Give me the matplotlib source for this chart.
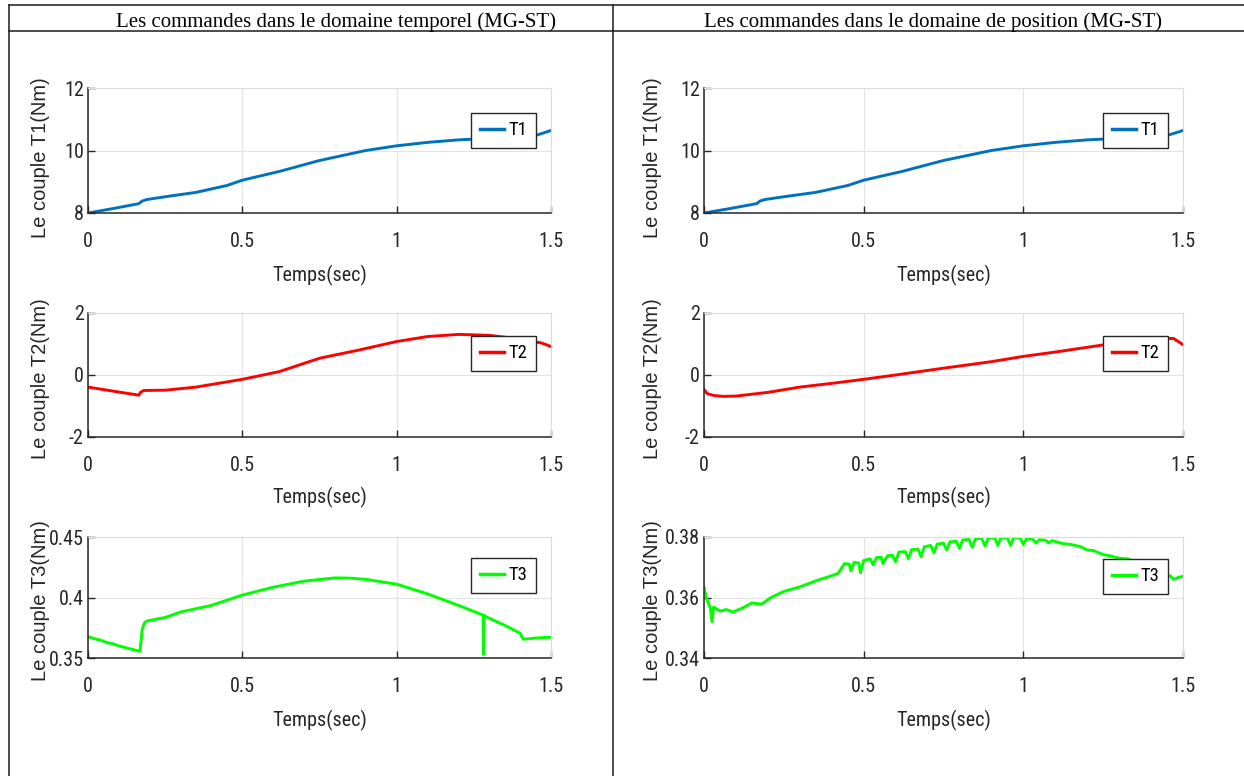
import matplotlib
matplotlib.use("Agg")
import matplotlib.pyplot as plt
import matplotlib.font_manager as fm
from matplotlib.lines import Line2D

# ---------------- data ----------------
headers = ["Les commandes dans le domaine temporel (MG-ST)",
           "Les commandes dans le domaine de position (MG-ST)"]
xlabel_text = "Temps(sec)"
ylabels = ["Le couple T1(Nm)", "Le couple T2(Nm)", "Le couple T3(Nm)"]
series_names = ["T1", "T2", "T3"]

x_ticks = [0, 0.5, 1, 1.5]
x_tick_labels = ["0", "0.5", "1", "1.5"]
t1_ticks = [8, 10, 12]
t1_tick_labels = ["8", "10", "12"]
t2_ticks = [-2, 0, 2]
t2_tick_labels = ["-2", "0", "2"]
t3L_ticks = [0.35, 0.40, 0.45]
t3L_tick_labels = ["0.35", "0.4", "0.45"]
t3R_ticks = [0.34, 0.36, 0.38]
t3R_tick_labels = ["0.34", "0.36", "0.38"]

# left column (temporal domain)
t1L_t = [0, 0.08, 0.165, 0.175, 0.19, 0.25, 0.35, 0.45, 0.5, 0.62, 0.75, 0.9, 1.0, 1.1, 1.2, 1.3, 1.4, 1.45, 1.5]
t1L_v = [8.00, 8.14, 8.30, 8.38, 8.43, 8.52, 8.66, 8.88, 9.05, 9.33, 9.68, 10.0, 10.15, 10.26, 10.34, 10.39, 10.44, 10.48, 10.64]

t2L_t = [0, 0.05, 0.10, 0.165, 0.17, 0.18, 0.25, 0.35, 0.5, 0.62, 0.75, 0.88, 1.0, 1.1, 1.2, 1.3, 1.4, 1.47, 1.5]
t2L_v = [-0.39, -0.47, -0.55, -0.65, -0.56, -0.50, -0.49, -0.39, -0.14, 0.11, 0.54, 0.81, 1.08, 1.24, 1.31, 1.28, 1.16, 1.03, 0.92]

t3L_t = [0, 0.02, 0.04, 0.06, 0.08, 0.10, 0.13, 0.168, 0.171, 0.176, 0.183, 0.19, 0.25, 0.3, 0.4, 0.5, 0.6, 0.7,
         0.8, 0.85, 0.9, 1.0, 1.1, 1.2, 1.28, 1.281, 1.2815, 1.282, 1.35, 1.4, 1.41, 1.45, 1.5]
t3L_v = [0.3676, 0.3660, 0.3648, 0.3628, 0.3618, 0.3600, 0.3580, 0.3555, 0.3620, 0.3740, 0.3790, 0.3805, 0.3835,
         0.3880, 0.3935, 0.4020, 0.4085, 0.4135, 0.4162, 0.4160, 0.4150, 0.4110, 0.4030, 0.3935, 0.3855, 0.3530,
         0.3530, 0.3850, 0.3770, 0.3705, 0.3655, 0.3665, 0.3672]

# right column (position domain)
t1R_t = [0, 0.08, 0.165, 0.175, 0.19, 0.25, 0.35, 0.45, 0.5, 0.62, 0.75, 0.9, 1.0, 1.1, 1.2, 1.3, 1.4, 1.45, 1.5]
t1R_v = [8.00, 8.14, 8.30, 8.38, 8.43, 8.52, 8.66, 8.88, 9.05, 9.33, 9.68, 10.0, 10.15, 10.26, 10.34, 10.39, 10.44, 10.48, 10.64]

t2R_t = [0, 0.01, 0.03, 0.06, 0.1, 0.2, 0.3, 0.4, 0.5, 0.6, 0.75, 0.9, 1.0, 1.1, 1.25, 1.35, 1.42, 1.47, 1.5]
t2R_v = [-0.47, -0.60, -0.66, -0.69, -0.68, -0.56, -0.39, -0.27, -0.14, 0.0, 0.22, 0.43, 0.60, 0.74, 0.97, 1.08, 1.16, 1.18, 0.98]

t3R_t = [0, 0.008, 0.02, 0.025, 0.03, 0.05, 0.07, 0.09, 0.12, 0.15, 0.18, 0.21, 0.25, 0.3, 0.35, 0.4, 0.42,
         0.44, 0.455, 0.46, 0.47, 0.485, 0.49, 0.50, 0.52, 0.53, 0.54, 0.555, 0.56, 0.575, 0.59, 0.60, 0.61,
         0.63, 0.64, 0.65, 0.67, 0.68, 0.69, 0.71, 0.72, 0.73, 0.75, 0.76, 0.77, 0.79, 0.80, 0.81, 0.83, 0.84,
         0.85, 0.87, 0.88, 0.89, 0.91, 0.92, 0.93, 0.95, 0.96, 0.97, 0.99, 1.00, 1.01, 1.03, 1.04, 1.05, 1.07,
         1.08, 1.09, 1.12, 1.15, 1.18, 1.2, 1.22, 1.25, 1.27, 1.3, 1.33, 1.36, 1.4, 1.44, 1.46, 1.47, 1.49, 1.5]
t3R_v = [0.3634, 0.3597, 0.3565, 0.3520, 0.3568, 0.3555, 0.3560, 0.3552, 0.3565, 0.3582, 0.3578, 0.3600, 0.3620,
         0.3635, 0.3655, 0.3672, 0.3680,
         0.3712, 0.3710, 0.3688, 0.3716, 0.3714, 0.3682, 0.3722, 0.3728, 0.3708, 0.3732, 0.3733, 0.3712, 0.3738,
         0.3740, 0.3718, 0.3750, 0.3752, 0.3728, 0.3758, 0.3760, 0.3735, 0.3768, 0.3772, 0.3748, 0.3776, 0.3780,
         0.3757, 0.3784, 0.3786, 0.3762, 0.3790, 0.3792, 0.3766, 0.3794, 0.3795, 0.3770, 0.3797, 0.3798, 0.3772,
         0.3798, 0.3798, 0.3772, 0.3799, 0.3797, 0.3775, 0.3795, 0.3792, 0.3780, 0.3791, 0.3789, 0.3780, 0.3788,
         0.3779, 0.3775, 0.3768, 0.3757, 0.3755, 0.3742, 0.3738, 0.3730, 0.3727, 0.3710, 0.3695, 0.3665, 0.3672,
         0.3660, 0.3668, 0.3670]

colors = ["#0072BD", "#FF0000", "#00FF00"]

# ---------------- style ----------------
faces = [(f.name, f.stretch) for f in fm.fontManager.ttflist]
NARROW, STRETCH, condensed = "Liberation Sans", "normal", False
for name in ["Liberation Sans Narrow", "Roboto Condensed", "Open Sans Condensed"]:
    if any(n == name for n, s in faces):
        NARROW, STRETCH, condensed = name, "normal", True
        break
else:
    for name in ["DejaVu Sans", "Roboto", "Open Sans", "Noto Sans"]:
        if any(n == name and str(s) not in ("normal", "400", "500") for n, s in faces):
            NARROW, STRETCH, condensed = name, "condensed", True
            break
TICK_FS = 14.5 if condensed else 12
LAB_FS = 14.5 if condensed else 13
LEG_FS = 13.5 if condensed else 12
W, H = 1244, 776

fig = plt.figure(figsize=(W / 100, H / 100), dpi=100)
fig.patch.set_facecolor("white")

def fx(px):
    return px / W

def fy(py):
    return 1 - py / H

# table frame
line_kw = dict(transform=fig.transFigure, color="#1a1a1a", lw=1.1)
fig.add_artist(Line2D([fx(9), fx(1244)], [fy(5), fy(5)], **line_kw))
fig.add_artist(Line2D([fx(9), fx(1244)], [fy(31), fy(31)], **line_kw))
fig.add_artist(Line2D([fx(9), fx(9)], [fy(5), fy(776)], **line_kw))
fig.add_artist(Line2D([fx(613), fx(613)], [fy(5), fy(776)], **line_kw))

fig.text(fx(335.5), fy(26.5), headers[0], ha="center", va="baseline",
         family="Liberation Serif", fontsize=15, color="black")
fig.text(fx(932.5), fy(26.5), headers[1], ha="center", va="baseline",
         family="Liberation Serif", fontsize=15, color="black")

cols = [(88, 551), (704, 1183)]
rows = [(88, 213), (313, 437), (537, 658)]
xlabel_y = [275, 497, 720]
ylabel_y = [158, 379, 601]
ylabel_x = [41, 653]

data = [
    [(t1L_t, t1L_v, t1_ticks, t1_tick_labels), (t2L_t, t2L_v, t2_ticks, t2_tick_labels),
     (t3L_t, t3L_v, t3L_ticks, t3L_tick_labels)],
    [(t1R_t, t1R_v, t1_ticks, t1_tick_labels), (t2R_t, t2R_v, t2_ticks, t2_tick_labels),
     (t3R_t, t3R_v, t3R_ticks, t3R_tick_labels)],
]
legend_right = [536, 1168]
legend_top = [[113, 336, 558], [113, 336, 559]]

for ci, (x0, x1) in enumerate(cols):
    for ri, (y0, y1) in enumerate(rows):
        ax = fig.add_axes([fx(x0), fy(y1), fx(x1 - x0), (y1 - y0) / H])
        tt, vv, yt, ytl = data[ci][ri]
        ax.plot(tt, vv, color=colors[ri], lw=2.1, label=series_names[ri], solid_joinstyle="round")
        ax.set_xlim(0, 1.5)
        ax.set_ylim(yt[0], yt[-1])
        ax.set_xticks(x_ticks)
        ax.set_xticklabels(x_tick_labels)
        ax.set_yticks(yt)
        ax.set_yticklabels(ytl)
        ax.grid(True, color="#e3e3e3", lw=0.8)
        ax.set_axisbelow(True)
        for s in ["top", "right"]:
            ax.spines[s].set_color("#dcdcdc")
            ax.spines[s].set_linewidth(0.8)
        for s in ["left", "bottom"]:
            ax.spines[s].set_color("#262626")
            ax.spines[s].set_linewidth(1.1)
        ax.tick_params(axis="x", direction="in", length=5, width=1, pad=14,
                       labelsize=TICK_FS, labelcolor="#262626", color="#262626")
        ax.tick_params(axis="y", direction="in", length=5, width=1, pad=3,
                       labelsize=TICK_FS, labelcolor="#262626", color="#262626")
        for lab in ax.get_xticklabels() + ax.get_yticklabels():
            lab.set_family(NARROW)
            lab.set_stretch(STRETCH)
        ax.set_xlabel(xlabel_text, family=NARROW, fontstretch=STRETCH, fontsize=LAB_FS, color="#262626")
        ax.xaxis.label.set_va("center")
        ax.xaxis.set_label_coords(0.5, (y1 - xlabel_y[ri]) / (y1 - y0))
        ax.set_ylabel(ylabels[ri], family="Liberation Sans", fontsize=14.5, color="#262626")
        ax.yaxis.label.set_va("center")
        ax.yaxis.set_label_coords((ylabel_x[ci] - x0) / (x1 - x0), (y1 - ylabel_y[ri]) / (y1 - y0))
        leg = ax.legend(loc="upper right",
                        bbox_to_anchor=((legend_right[ci] - x0) / (x1 - x0),
                                        (y1 - legend_top[ci][ri]) / (y1 - y0)),
                        borderaxespad=0, fancybox=False, framealpha=1, edgecolor="#262626",
                        prop={"family": NARROW, "stretch": STRETCH, "size": LEG_FS},
                        handlelength=1.3, handletextpad=0.25, borderpad=0.45)
        leg.get_frame().set_linewidth(1.0)
        for h in leg.get_lines():
            h.set_linewidth(2.5)

fig.savefig("out.png", dpi=100, facecolor="white")
